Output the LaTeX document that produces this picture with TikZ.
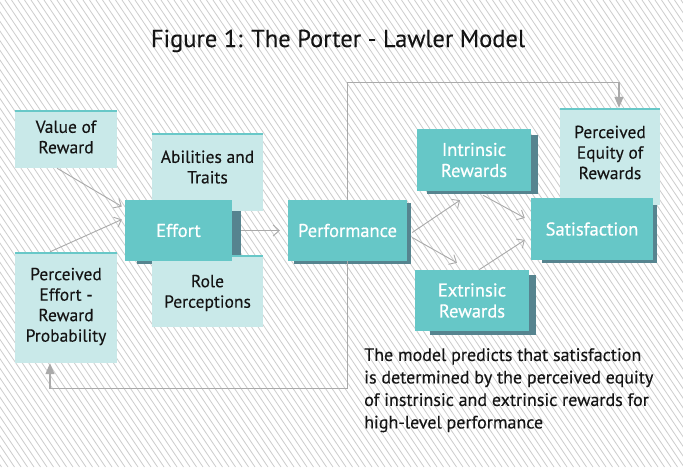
\documentclass[tikz,border=0pt]{standalone}
\usepackage{fontspec}
\setmainfont{PT Sans}
\usetikzlibrary{arrows.meta}
\pgfdeclarelayer{bglayer}
\pgfdeclarelayer{shadowlayer}
\pgfdeclarelayer{lightlayer}
\pgfsetlayers{bglayer,shadowlayer,lightlayer,main}
\definecolor{darkteal}{RGB}{102,199,199}
\definecolor{shade}{RGB}{86,132,143}
\definecolor{lightteal}{RGB}{201,233,233}
\definecolor{topteal}{RGB}{104,200,200}
\definecolor{arrowgray}{RGB}{170,170,170}
\definecolor{hatchgray}{RGB}{205,205,205}
\newfontfamily\darkfont[FakeBold=0.6]{PT Sans}
\newfontfamily\lightfont[FakeBold=0.25]{PT Sans}
\tikzset{
  darkbox/.style={fill=darkteal, text=white, font=\darkfont\fontsize{18.5}{21}\selectfont, align=center, inner sep=0pt},
  lightbox/.style={fill=lightteal, inner sep=0pt,
    path picture={\draw[topteal, line width=4pt] (path picture bounding box.north west) -- (path picture bounding box.north east);}},
  boxtext/.style={font=\lightfont\fontsize{17.5}{20.5}\selectfont, text=black!92, align=center},
  conn/.style={draw=arrowgray, line width=0.9pt, -{Straight Barb[length=6pt,width=11pt]}},
  fb/.style={draw=arrowgray, line width=1.2pt, -{Triangle[length=11pt,width=9pt]}},
  hatch/.style={draw=hatchgray, line width=0.8pt},
  shadowfill/.style={fill=shade}
}
\begin{document}
\begin{tikzpicture}[x=1pt,y=-1pt]
\useasboundingbox (0,0) rectangle (683,467);
\begin{pgfonlayer}{bglayer}
  \fill[white] (0,0) rectangle (683,467);
  \begin{scope}
    \clip (0,0) rectangle (683,467);
    \foreach \x in {-320,-313.5,...,690} \draw[hatch] (\x,0) -- ++(315,467);
  \end{scope}
\end{pgfonlayer}

% title
\node[font=\lightfont\fontsize{24.5}{30}\selectfont, anchor=base, text=black!92] (title) at (338,47) {Figure 1: The Porter - Lawler Model};

% dark boxes
\node[darkbox, minimum width=107pt, minimum height=61pt] (effort) at (178.5,230.5) {Effort};
\node[darkbox, minimum width=119pt, minimum height=61pt] (perf) at (347.5,230.5) {Performance};
\node[darkbox, minimum width=114pt, minimum height=62pt] (intr) at (474,160) {Intrinsic\\Rewards};
\node[darkbox, minimum width=114pt, minimum height=61pt] (extr) at (472,300.5) {Extrinsic\\Rewards};
\node[darkbox, minimum width=122pt, minimum height=62pt] (sat) at (592,229) {Satisfaction};

% light boxes
\begin{pgfonlayer}{lightlayer}
\node[lightbox, minimum width=102pt, minimum height=58pt,
  label={[boxtext, yshift=2pt]center:{Value of\\Reward}}] (value) at (66,139) {};
\node[lightbox, minimum width=111pt, minimum height=78pt,
  label={[boxtext, yshift=5pt]center:{Abilities and\\Traits}}] (abil) at (207.5,172) {};
\node[lightbox, minimum width=111pt, minimum height=72pt,
  label={[boxtext, yshift=-2pt]center:{Role\\Perceptions}}] (role) at (207.5,291) {};
\node[lightbox, minimum width=102pt, minimum height=111pt,
  label={[boxtext, yshift=1pt]center:{Perceived\\Effort -\\Reward\\Probability}}] (pep) at (66,307.5) {};
\node[lightbox, minimum width=100pt, minimum height=97pt,
  label={[boxtext, yshift=4pt]center:{Perceived\\Equity of\\Rewards}}] (pe) at (610,156.5) {};
\end{pgfonlayer}

% shadows
\begin{pgfonlayer}{shadowlayer}
\fill[shadowfill] ([xshift=12pt,yshift=-11pt]effort.north west) rectangle ([xshift=9pt,yshift=-3pt]effort.south east);
\fill[shadowfill] ([xshift=6pt,yshift=-3pt]perf.north west) rectangle ([xshift=4pt,yshift=-3pt]perf.south east);
\fill[shadowfill] ([xshift=10pt,yshift=-6pt]intr.north west) rectangle ([xshift=7pt,yshift=-3pt]intr.south east);
\fill[shadowfill] ([xshift=15pt,yshift=-5pt]extr.north west) rectangle ([xshift=7pt,yshift=-4pt]extr.south east);
\fill[shadowfill] ([xshift=11pt,yshift=-7pt]sat.north west) rectangle ([xshift=4pt,yshift=-3pt]sat.south east);
\end{pgfonlayer}

% connectors
\draw[conn] ([xshift=-9pt]value.south) -- ([xshift=-3pt,yshift=24pt]effort.west);
\draw[conn] ([xshift=-16pt]pep.north) -- ([xshift=-3pt,yshift=11pt]effort.west);
\draw[conn] ([xshift=9pt]effort.east) -- ([xshift=-8pt]perf.west);
\draw[conn] ([xshift=5pt,yshift=-2pt]perf.east) -- ([xshift=-14pt,yshift=-9pt]intr.south);
\draw[conn] ([xshift=5pt,yshift=-7pt]perf.east) -- ([xshift=-15pt,yshift=7pt]extr.north);
\draw[conn] ([xshift=9pt,yshift=-4pt]intr.south) -- ([xshift=-6pt,yshift=11pt]sat.west);
\draw[conn] ([xshift=7pt]extr.north) -- ([xshift=-6pt,yshift=-11pt]sat.west);

% feedback loops
\draw[fb] (perf.north) -- ++(0,-117) -| ([xshift=9pt]pe.north);
\draw[fb] (perf.south) -- ++(0,127) -| ([xshift=-16pt]pep.south);

% caption
\node[font=\lightfont\fontsize{18}{22.5}\selectfont, anchor=north west, align=left, text=black!92, inner sep=0pt] (cap) at (364,348)
  {The model predicts that satisfaction\\is determined by the perceived equity\\of instrinsic and extrinsic rewards for\\high-level performance};
\end{tikzpicture}
\end{document}
